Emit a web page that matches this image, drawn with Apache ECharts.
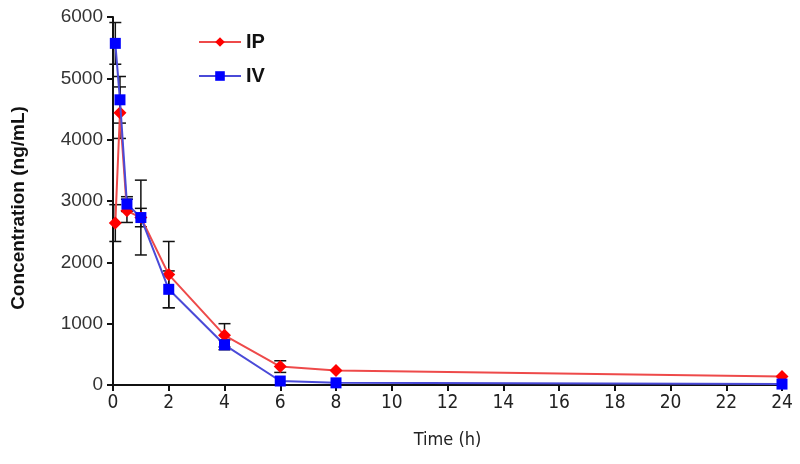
<!DOCTYPE html>
<html><head><meta charset="utf-8">
<script src="https://cdn.jsdelivr.net/npm/echarts@6/dist/echarts.min.js"></script>
<style>html,body{margin:0;padding:0;background:#fff}#c{width:800px;height:464px}</style>
</head><body><div id="c"></div>
<script>
const timeH = [0.083, 0.25, 0.5, 1, 2, 4, 6, 8, 24];
const ipMean = [2640, 4440, 2840, 2730, 1800, 810, 300, 235, 140];
const ipSD   = [300, 420, 190, 610, 540, 190, 95, 0, 0];
const ivMean = [5570, 4650, 2950, 2730, 1560, 655, 65, 35, 15];
const ivSD   = [340, 380, 120, 150, 300, 80, 0, 0, 0];
const xTicks = {min: 0, max: 24, interval: 2};
const yTicks = {min: 0, max: 6000, interval: 1000};

const pair = (xs, ys) => xs.map((x, i) => [x, ys[i]]);
const errData = (xs, m, s) => xs.map((x, i) => [x, m[i] - s[i], m[i] + s[i]]).filter((d, i) => s[i] > 0);

function errRender(params, api) {
  const x = api.value(0), lo = api.value(1), hi = api.value(2);
  const pHi = api.coord([x, hi]), pLo = api.coord([x, lo]);
  const w = 6;
  const st = {stroke: '#111', lineWidth: 1.5};
  return {type: 'group', children: [
    {type: 'line', shape: {x1: pHi[0], y1: pHi[1], x2: pLo[0], y2: pLo[1]}, style: st},
    {type: 'line', shape: {x1: pHi[0]-w, y1: pHi[1], x2: pHi[0]+w, y2: pHi[1]}, style: st},
    {type: 'line', shape: {x1: pLo[0]-w, y1: pLo[1], x2: pLo[0]+w, y2: pLo[1]}, style: st}
  ]};
}

const narrow = "'DejaVu Sans Condensed', 'Liberation Sans Narrow', 'Arial Narrow', 'Liberation Sans', sans-serif";
const chart = echarts.init(document.getElementById('c'), null, {renderer: 'canvas'});
chart.setOption({
  animation: false,
  backgroundColor: '#fff',
  grid: {left: 113, right: 18, top: 17, bottom: 79, containLabel: false},
  legend: {
    orient: 'vertical', left: 193, top: 27, itemWidth: 42, itemHeight: 12, itemGap: 14,
    textStyle: {fontFamily: 'Liberation Sans', fontWeight: 'bold', fontSize: 20, color: '#111'},
    data: ['IP', 'IV']
  },
  xAxis: {
    type: 'value', min: xTicks.min, max: xTicks.max, interval: xTicks.interval,
    name: 'Time (h)', nameLocation: 'middle', nameGap: 46,
    nameTextStyle: {fontFamily: narrow, fontSize: 18, color: '#222'},
    axisLine: {lineStyle: {color: '#111', width: 2}},
    axisTick: {show: true, length: 6, lineStyle: {color: '#111', width: 2}},
    axisLabel: {fontFamily: narrow, fontSize: 19, color: '#222', margin: 9},
    splitLine: {show: false}
  },
  yAxis: {
    type: 'value', min: yTicks.min, max: yTicks.max, interval: yTicks.interval,
    name: 'Concentration (ng/mL)', nameLocation: 'middle', nameGap: 85, nameRotate: 90,
    nameTextStyle: {fontFamily: 'Liberation Sans', fontWeight: 'bold', fontSize: 19, color: '#111',
                    padding: [0, 14, 0, 0]},
    axisLine: {show: true, lineStyle: {color: '#111', width: 2}},
    axisTick: {show: true, length: 6, lineStyle: {color: '#111', width: 2}},
    axisLabel: {fontFamily: 'Liberation Sans', fontSize: 19, color: '#333', margin: 10,
                formatter: v => String(v)},
    splitLine: {show: false}
  },
  series: [
    {type: 'custom', name: 'ipErr', renderItem: errRender, data: errData(timeH, ipMean, ipSD), z: 1, silent: true},
    {type: 'custom', name: 'ivErr', renderItem: errRender, data: errData(timeH, ivMean, ivSD), z: 1, silent: true},
    {type: 'line', name: 'IP', data: pair(timeH, ipMean), symbol: 'diamond', symbolSize: 13,
     lineStyle: {color: '#ee4a4a', width: 2}, itemStyle: {color: '#ff0000'}, z: 3},
    {type: 'line', name: 'IV', data: pair(timeH, ivMean), symbol: 'rect', symbolSize: 11,
     lineStyle: {color: '#4a4ad8', width: 2}, itemStyle: {color: '#0000ff'}, z: 4}
  ]
});
</script></body></html>
